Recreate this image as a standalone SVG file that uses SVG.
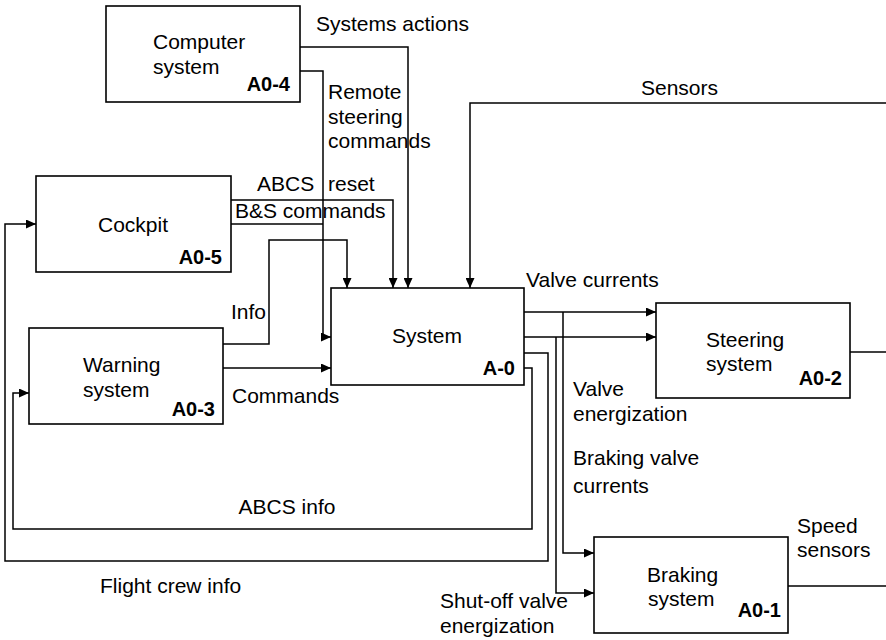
<svg xmlns="http://www.w3.org/2000/svg" width="886" height="640" viewBox="0 0 886 640">
  <defs>
    <marker id="arrow" markerUnits="userSpaceOnUse" markerWidth="11" markerHeight="9" refX="10" refY="4.5" orient="auto">
      <path d="M0,0 L10,4.5 L0,9 z" fill="#000"/>
    </marker>
    <style>
      .box { fill: #fff; stroke: #000; stroke-width: 1.6; }
      .wire { fill: none; stroke: #000; stroke-width: 1.5; }
      .arr { marker-end: url(#arrow); }
      text { font-family: "Liberation Sans", Arial, sans-serif; font-size: 21px; fill: #000; }
      .id { font-weight: bold; font-size: 20px; text-anchor: end; }
      .mid { text-anchor: middle; }
    </style>
  </defs>
  <rect width="886" height="640" fill="#fff"/>

  <!-- activity boxes -->
  <g id="computer-system">
    <rect class="box" x="106" y="6" width="194" height="96"/>
    <text x="153" y="49">Computer</text>
    <text x="153" y="74">system</text>
    <text class="id" x="290" y="91">A0-4</text>
  </g>
  <g id="cockpit">
    <rect class="box" x="36" y="176" width="195" height="96"/>
    <text class="mid" x="133" y="232">Cockpit</text>
    <text class="id" x="222" y="264">A0-5</text>
  </g>
  <g id="warning-system">
    <rect class="box" x="29" y="328" width="194" height="96"/>
    <text x="83" y="372">Warning</text>
    <text x="83" y="397">system</text>
    <text class="id" x="215" y="416">A0-3</text>
  </g>
  <g id="system">
    <rect class="box" x="331" y="288" width="193" height="97"/>
    <text class="mid" x="427" y="343">System</text>
    <text class="id" x="515" y="375">A-0</text>
  </g>
  <g id="steering-system">
    <rect class="box" x="656" y="303" width="194" height="95"/>
    <text x="706" y="347">Steering</text>
    <text x="706" y="371">system</text>
    <text class="id" x="842" y="385">A0-2</text>
  </g>
  <g id="braking-system">
    <rect class="box" x="594" y="537" width="194" height="96"/>
    <text x="647" y="582">Braking</text>
    <text x="648" y="606">system</text>
    <text class="id" x="781" y="617">A0-1</text>
  </g>

  <!-- flows between activities -->
  <g id="connectors">
    <path class="wire arr" d="M300,47 H408 V288"/>
    <path class="wire arr" d="M300,71 H323 V337 H331"/>
    <path class="wire arr" d="M231,200 H393 V288"/>
    <path class="wire" d="M231,224 H323"/>
    <path class="wire arr" d="M223,344 H269 V240 H347 V288"/>
    <path class="wire arr" d="M223,368 H331"/>
    <path class="wire arr" d="M886,103 H470 V288"/>
    <path class="wire arr" d="M524,312 H656"/>
    <path class="wire arr" d="M524,337 H656"/>
    <path class="wire arr" d="M563,312 V553 H594"/>
    <path class="wire arr" d="M556,337 V593 H594"/>
    <path class="wire arr" d="M524,353 H548 V561 H5 V224 H36"/>
    <path class="wire arr" d="M524,368 H532 V529 H13 V393 H29"/>
    <path class="wire" d="M850,352 H886"/>
    <path class="wire" d="M788,586 H886"/>

    <!-- flow labels -->
    <text x="316" y="31">Systems actions</text>
    <text x="328" y="99">Remote</text>
    <text x="328" y="124">steering</text>
    <text x="328" y="148">commands</text>
    <text x="257" y="191">ABCS</text>
    <text x="328" y="191">reset</text>
    <text x="235" y="218">B&amp;S commands</text>
    <text x="231" y="319">Info</text>
    <text x="232" y="403">Commands</text>
    <text x="641" y="95">Sensors</text>
    <text x="526" y="287">Valve currents</text>
    <text x="573" y="396">Valve</text>
    <text x="573" y="421">energization</text>
    <text x="573" y="465">Braking valve</text>
    <text x="573" y="493">currents</text>
    <text x="797" y="533">Speed</text>
    <text x="797" y="557">sensors</text>
    <text x="440" y="608">Shut-off valve</text>
    <text x="440" y="633">energization</text>
    <text class="mid" x="287" y="514">ABCS info</text>
    <text x="100" y="593">Flight crew info</text>
  </g>
</svg>
